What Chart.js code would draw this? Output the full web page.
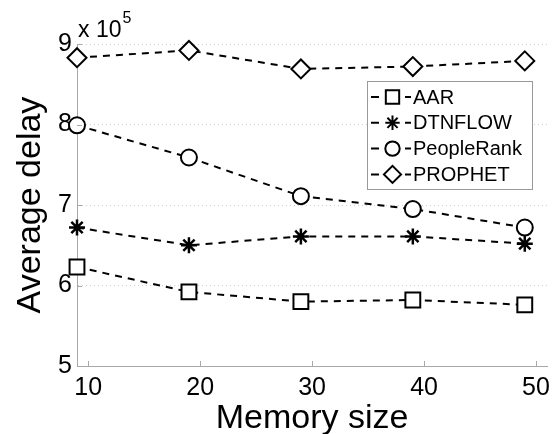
<!DOCTYPE html>
<html>
<head>
<meta charset="utf-8">
<script src="https://cdn.jsdelivr.net/npm/chart.js@4"></script>
<style>
	html, body { margin: 0; padding: 0; background: #fff; }
	#wrap { width: 557px; height: 434px; }
</style>
</head>
<body>
<div id="wrap"><canvas id="chart" width="557" height="434"></canvas></div>
<script>
// Data (delay values in units of 10^5)
const memorySize = [9, 19, 29, 39, 49];
const xTicks = [10, 20, 30, 40, 50];
const yTicks = [5, 6, 7, 8, 9];
const seriesNames = ['AAR', 'DTNFLOW', 'PeopleRank', 'PROPHET'];
const aar = [6.23, 5.92, 5.80, 5.82, 5.76];
const dtnflow = [6.72, 6.50, 6.61, 6.61, 6.52];
const peopleRank = [7.99, 7.59, 7.11, 6.95, 6.72];
const prophet = [8.83, 8.92, 8.69, 8.72, 8.79];
const markerStyles = ['rect', 'star', 'circle', 'rectRot'];
const markerRadii = [10.5, 8, 8, 9.5];

const FONT = '"Liberation Sans", Arial, sans-serif';
const AXIS_GREY = '#a8a8a8';

const toPoints = (ys) => ys.map((y, i) => ({x: memorySize[i], y}));

const datasets = [aar, dtnflow, peopleRank, prophet].map((values, i) => ({
	label: seriesNames[i],
	data: toPoints(values),
	borderColor: '#000',
	backgroundColor: '#fff',
	borderWidth: 2,
	borderDash: [7, 6],
	pointStyle: markerStyles[i],
	pointRadius: markerRadii[i],
	pointBorderWidth: i === 1 ? 2.5 : 2,
	pointBorderColor: '#000',
	pointBackgroundColor: '#fff',
	clip: false,
	tension: 0,
}));

// MATLAB-style inward tick marks
const innerTicks = {
	id: 'innerTicks',
	afterDraw(chart) {
		const {ctx, chartArea, scales: {x, y}} = chart;
		ctx.save();
		ctx.strokeStyle = AXIS_GREY;
		ctx.lineWidth = 1;
		ctx.beginPath();
		for (const v of xTicks) {
			const px = Math.round(x.getPixelForValue(v)) + 0.5;
			ctx.moveTo(px, chartArea.bottom);
			ctx.lineTo(px, chartArea.bottom - 5);
		}
		for (const v of yTicks) {
			const py = Math.round(y.getPixelForValue(v)) + 0.5;
			ctx.moveTo(chartArea.left, py);
			ctx.lineTo(chartArea.left + 5, py);
		}
		ctx.stroke();
		ctx.restore();
	},
};

// "x 10^5" exponent label above the y axis
const exponentLabel = {
	id: 'exponentLabel',
	afterDraw(chart) {
		const {ctx, chartArea} = chart;
		ctx.save();
		ctx.fillStyle = '#000';
		ctx.textBaseline = 'alphabetic';
		ctx.textAlign = 'left';
		ctx.font = `23px ${FONT}`;
		const base = 'x 10';
		const x0 = chartArea.left + 1;
		ctx.fillText(base, x0, 37);
		const w = ctx.measureText(base).width;
		ctx.font = `16px ${FONT}`;
		ctx.fillText('5', x0 + w + 1, 23);
		ctx.restore();
	},
};

// Boxed legend with line + marker samples
const boxLegend = {
	id: 'boxLegend',
	afterDraw(chart) {
		const {ctx} = chart;
		const box = {x: 367.5, y: 81.5, w: 165, h: 108};
		ctx.save();
		ctx.fillStyle = '#fff';
		ctx.strokeStyle = '#999';
		ctx.lineWidth = 1;
		ctx.fillRect(box.x, box.y, box.w, box.h);
		ctx.strokeRect(box.x, box.y, box.w, box.h);
		chart.data.datasets.forEach((ds, i) => {
			const cy = 97 + i * 25.8;
			ctx.strokeStyle = '#000';
			ctx.lineWidth = 2;
			ctx.setLineDash([]);
			ctx.beginPath();
			ctx.moveTo(371, cy);
			ctx.lineTo(379, cy);
			ctx.moveTo(405, cy);
			ctx.lineTo(411, cy);
			ctx.stroke();
			ctx.fillStyle = '#fff';
			Chart.helpers.drawPoint(ctx, {
				pointStyle: ds.pointStyle,
				radius: ds.pointRadius * 0.9,
				borderWidth: ds.pointBorderWidth,
				rotation: 0,
			}, 392.5, cy);
			ctx.fillStyle = '#000';
			ctx.font = `20px ${FONT}`;
			ctx.textBaseline = 'middle';
			ctx.textAlign = 'left';
			ctx.fillText(ds.label, 413, cy + 1);
		});
		ctx.restore();
	},
};

new Chart(document.querySelector('#chart'), {
	type: 'line',
	data: {datasets},
	options: {
		responsive: false,
		animation: false,
		devicePixelRatio: 1,
		layout: {autoPadding: false, padding: {left: 0, top: 44, right: 5, bottom: 0}},
		plugins: {legend: {display: false}, tooltip: {enabled: false}},
		scales: {
			x: {
				type: 'linear',
				min: 9,
				max: 51,
				afterBuildTicks: (scale) => { scale.ticks = xTicks.map((value) => ({value})); },
				afterFit: (scale) => { scale.height = 68; },
				grid: {display: false, drawTicks: false},
				border: {color: AXIS_GREY, width: 1},
				ticks: {
					color: '#000',
					font: {family: FONT, size: 25},
					padding: 7,
					maxRotation: 0,
					autoSkip: false,
				},
				title: {
					display: true,
					text: 'Memory size',
					color: '#000',
					font: {family: FONT, size: 34, lineHeight: 1},
					padding: {top: 0, bottom: -2},
				},
			},
			y: {
				min: 5,
				max: 9,
				afterBuildTicks: (scale) => { scale.ticks = yTicks.map((value) => ({value})); },
				afterFit: (scale) => { scale.width = 77; },
				grid: {
					drawTicks: false,
					color: (ctx) => (ctx.tick && ctx.tick.value === 5 ? 'rgba(0,0,0,0)' : '#cdcdcd'),
					lineWidth: 1,
				},
				border: {color: AXIS_GREY, width: 1, dash: [1, 3]},
				ticks: {
					color: '#000',
					font: {family: FONT, size: 25},
					padding: 5,
				},
				title: {
					display: true,
					text: 'Average delay',
					color: '#000',
					font: {family: FONT, size: 34, lineHeight: 1},
					padding: {top: 14, bottom: 0},
				},
			},
		},
	},
	plugins: [innerTicks, exponentLabel, boxLegend],
});
</script>
</body>
</html>
